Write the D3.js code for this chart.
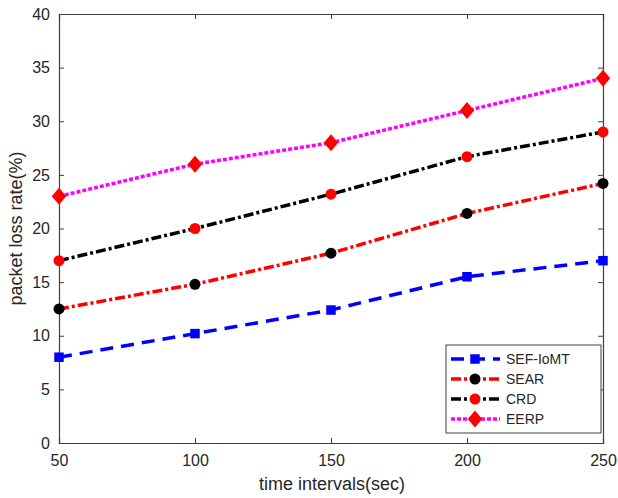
<!DOCTYPE html>
<html>
<head>
<meta charset="utf-8">
<title>packet loss rate</title>
<style>
  body { margin: 0; background: #fff; }
  text { font-family: "Liberation Sans", Arial, sans-serif; fill: #262626; }
</style>
</head>
<body>
<div id="chart"></div>
<script src="https://cdn.jsdelivr.net/npm/d3@7/dist/d3.min.js"></script>
<script>
// data
const intervals = [50, 100, 150, 200, 250];
const sefIomt = [8, 10.2, 12.4, 15.5, 17];
const sear = [12.5, 14.8, 17.7, 21.4, 24.2];
const crd = [17, 20, 23.2, 26.7, 29];
const eerp = [23, 26, 28, 31, 34];
const yTicks = [0, 5, 10, 15, 20, 25, 30, 35, 40];

const series = [
  {name: "SEF-IoMT", values: sefIomt, line: "#0000ff", dash: "13,8", marker: "square", fill: "#0000ff"},
  {name: "SEAR", values: sear, line: "#ff0000", dash: "10,3,3,3", marker: "circle", fill: "#000000"},
  {name: "CRD", values: crd, line: "#000000", dash: "10,3,3,3", marker: "circle", fill: "#ff0000"},
  {name: "EERP", values: eerp, line: "#ff00ff", dash: "4,2", marker: "diamond", fill: "#ff0000"}
];

const W = 618, H = 498;
const m = {left: 59, right: 15, top: 14, bottom: 55};

const svg = d3.select("#chart").append("svg")
  .attr("width", W).attr("height", H);

const x = d3.scaleLinear().domain([50, 250]).range([m.left, W - m.right]);
const y = d3.scaleLinear().domain([0, 40]).range([H - m.bottom, m.top]);

// axes, matlab-ish box with ticks pointing in
const axisColor = "#404040";
svg.append("g")
  .attr("transform", `translate(0,${H - m.bottom})`)
  .call(d3.axisBottom(x).tickValues(intervals).tickSize(-5).tickPadding(12));
svg.append("g")
  .attr("transform", `translate(${m.left},0)`)
  .call(d3.axisLeft(y).tickValues(yTicks).tickSize(-5).tickPadding(9));
svg.append("g")
  .attr("transform", `translate(0,${m.top})`)
  .call(d3.axisTop(x).tickValues(intervals).tickSize(-5).tickFormat(""));
svg.append("g")
  .attr("transform", `translate(${W - m.right},0)`)
  .call(d3.axisRight(y).tickValues(yTicks).tickSize(-5).tickFormat(""));

svg.selectAll(".domain").attr("stroke", axisColor).attr("stroke-width", 1.2);
svg.selectAll(".tick line").attr("stroke", axisColor);
svg.selectAll(".tick text").style("font-size", "16px").attr("fill", "#262626");

// axis labels
svg.append("text")
  .attr("x", 332).attr("y", H - 8)
  .attr("text-anchor", "middle").style("font-size", "18px")
  .text("time intervals(sec)");
svg.append("text")
  .attr("transform", `translate(22,${(m.top + H - m.bottom) / 2}) rotate(-90)`)
  .attr("text-anchor", "middle").style("font-size", "18px")
  .text("packet loss rate(%)");

const line = d3.line()
  .x((d, i) => x(intervals[i]))
  .y(d => y(d));

function drawMarker(g, type, cx, cy, fill) {
  if (type == "square") {
    const s = 9.5;
    g.append("rect").attr("x", cx - s / 2).attr("y", cy - s / 2)
      .attr("width", s).attr("height", s).attr("fill", fill);
  } else if (type == "circle") {
    g.append("circle").attr("cx", cx).attr("cy", cy).attr("r", 5.5).attr("fill", fill);
  } else {
    const r = 8.5;
    g.append("path")
      .attr("d", `M${cx},${cy - r}L${cx + r * 0.85},${cy}L${cx},${cy + r}L${cx - r * 0.85},${cy}Z`)
      .attr("fill", fill);
  }
}

series.forEach(s => {
  svg.append("path")
    .attr("d", line(s.values))
    .attr("fill", "none")
    .attr("stroke", s.line)
    .attr("stroke-width", 3.5)
    .attr("stroke-dasharray", s.dash);
  const g = svg.append("g");
  s.values.forEach((v, i) => drawMarker(g, s.marker, x(intervals[i]), y(v), s.fill));
});

// legend
const lg = svg.append("g");
lg.append("rect")
  .attr("x", 446).attr("y", 345).attr("width", 155).attr("height", 88)
  .attr("fill", "#fff").attr("stroke", axisColor).attr("stroke-width", 1);
series.forEach((s, i) => {
  const ly = 359 + i * 20;
  lg.append("line")
    .attr("x1", 451).attr("x2", 500).attr("y1", ly).attr("y2", ly)
    .attr("stroke", s.line).attr("stroke-width", 3.5)
    .attr("stroke-dasharray", s.dash);
  drawMarker(lg, s.marker, 475, ly, s.fill);
  lg.append("text")
    .attr("x", 506).attr("y", ly + 5)
    .style("font-size", "14px")
    .text(s.name);
});
</script>
</body>
</html>
